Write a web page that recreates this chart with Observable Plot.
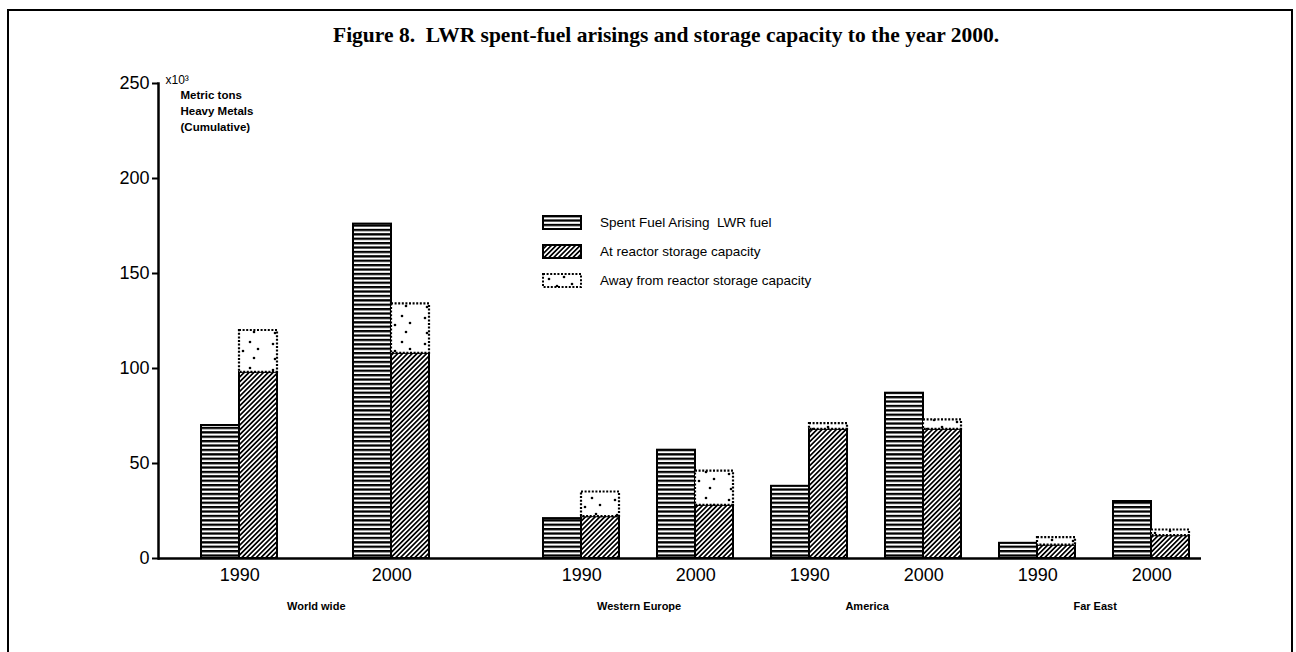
<!DOCTYPE html>
<html>
<head>
<meta charset="utf-8">
<script src="https://cdn.jsdelivr.net/npm/d3@7"></script>
<script src="https://cdn.jsdelivr.net/npm/@observablehq/plot@0.6"></script>
<style>
html, body { margin: 0; padding: 0; background: #fff; }
#wrap { position: relative; width: 1296px; height: 652px; overflow: hidden; font-family: "Liberation Sans", Arial, sans-serif; color: #000; }
#border { position: absolute; left: 7px; top: 9px; width: 1286px; height: 670px; border: 2px solid #000; box-sizing: border-box; }
#chart { position: absolute; left: 0; top: 0; }
#title { position: absolute; left: 333px; top: 23px; font-family: "Liberation Serif", "Times New Roman", serif; font-weight: bold; font-size: 21.5px; white-space: pre; line-height: 24px; }
#legend { position: absolute; left: 542px; top: 208px; font-size: 13.5px; }
#legend .row { display: flex; align-items: center; height: 29px; }
#legend span { white-space: pre; }
#legend svg { display: block; margin-right: 18px; }
</style>
</head>
<body>
<div id="wrap">
  <div id="border"></div>
  <div id="chart"></div>
  <div id="title">Figure 8.  LWR spent-fuel arisings and storage capacity to the year 2000.</div>
  <div id="legend"></div>
</div>
<script>
// ---- data (thousand metric tons heavy metal, cumulative) ----
const regions = ["World wide", "Western Europe", "America", "Far East"];
const years = ["1990", "2000"];
// order: World 1990, World 2000, W.Europe 1990, W.Europe 2000, America 1990, America 2000, Far East 1990, Far East 2000
const spentFuel = [70, 176, 21, 57, 38, 87, 8, 30];
const atReactor = [98, 108, 22, 28, 68, 68, 7, 12];
const awayFromReactor = [22, 26, 13, 18, 3, 5, 4, 3];
const yTicks = [0, 50, 100, 150, 200, 250];
const legendLabels = ["Spent Fuel Arising  LWR fuel", "At reactor storage capacity", "Away from reactor storage capacity"];
const unitLabel = "x10³";
const axisNote = "Metric tons\nHeavy Metals\n(Cumulative)";

// ---- layout ----
const W = 1296, H = 652;
const barRange = [197, 1193];
const gapsAfter = [2, 3, 1, 1, 1, 1, 1];
const groups = regions.flatMap(r => years.map(y => ({region: r, year: y, key: r + " " + y})));
const slots = [];
groups.forEach((g, i) => {
  slots.push(g.key + "|s", g.key + "|r");
  if (i < groups.length - 1) for (let k = 0; k < gapsAfter[i]; k++) slots.push("gap" + i + "-" + k);
});
const band = d3.scaleBand().domain(slots).range(barRange);
const bw = band.bandwidth();

const spentRows = groups.map((g, i) => ({slot: g.key + "|s", value: spentFuel[i]}));
const reactorRows = groups.map((g, i) => ({slot: g.key + "|r", y1: 0, y2: atReactor[i]}));
const awayRows = groups.map((g, i) => ({slot: g.key + "|r", y1: atReactor[i], y2: atReactor[i] + awayFromReactor[i]}));

const regionMarks = regions.map(r => {
  const a = band(r + " " + years[0] + "|s"), b = band(r + " " + years[1] + "|s");
  const off = (b - a) / 2 + bw / 2;
  return Plot.text([r], {x: () => r + " " + years[0] + "|s", frameAnchor: "bottom", dy: 51, dx: off,
    fontSize: 11, fontWeight: "bold", fill: "#000"});
});

const chart = Plot.plot({
  width: W, height: H,
  marginTop: 83, marginBottom: 94, marginLeft: 158, marginRight: 95,
  style: {fontFamily: '"Liberation Sans", Arial, sans-serif', background: "transparent", color: "#000"},
  x: {type: "band", domain: slots, range: barRange, paddingInner: 0, paddingOuter: 0, axis: null},
  y: {domain: [0, 250], axis: null},
  marks: [
    Plot.barY(spentRows, {x: "slot", y: "value", fill: "url(#hstripe)", stroke: "#000", strokeWidth: 2, inset: 0}),
    Plot.barY(reactorRows, {x: "slot", y1: "y1", y2: "y2", fill: "url(#hatch)", stroke: "#000", strokeWidth: 2, inset: 0}),
    Plot.barY(awayRows, {x: "slot", y1: "y1", y2: "y2", fill: "url(#dots)", stroke: "#000", strokeWidth: 2.2, strokeDasharray: "2,1.6", inset: 0}),
    Plot.ruleY([0], {stroke: "#000", strokeWidth: 2.5}),
    Plot.frame({anchor: "left", stroke: "#000", strokeWidth: 2.5}),
    Plot.axisY({ticks: yTicks, tickSize: 6, tickPadding: 3, fontSize: 18, strokeWidth: 2, tickFormat: d => String(d), label: null}),
    Plot.text(groups, {x: g => g.key + "|s", frameAnchor: "bottom", dy: 22, dx: bw / 2, text: "year", fontSize: 18, fill: "#000"}),
    ...regionMarks,
    Plot.text([unitLabel], {frameAnchor: "top-left", dx: 7, dy: -8, textAnchor: "start", fontSize: 12, fill: "#000"}),
    Plot.text([axisNote], {frameAnchor: "top-left", dx: 22, dy: 4, textAnchor: "start", lineAnchor: "top", lineHeight: 1.4, fontSize: 11.5, fontWeight: "bold", fill: "#000"})
  ]
});

const defs = `
<pattern id="hstripe" patternUnits="userSpaceOnUse" width="8" height="4.4">
  <rect width="8" height="4.4" fill="#fff"/><rect width="8" height="2.3" fill="#000"/>
</pattern>
<pattern id="hatch" patternUnits="userSpaceOnUse" width="3.4" height="3.4" patternTransform="rotate(45)">
  <rect width="3.4" height="3.4" fill="#fff"/><rect width="1.7" height="3.4" fill="#000"/>
</pattern>
<pattern id="dots" patternUnits="userSpaceOnUse" width="38" height="26">
  <rect width="38" height="26" fill="#fff"/>
  <circle cx="7" cy="6" r="1.3" fill="#000"/><circle cx="22" cy="4" r="1.3" fill="#000"/>
  <circle cx="15" cy="13" r="1.3" fill="#000"/><circle cx="30" cy="11" r="1.3" fill="#000"/>
  <circle cx="9" cy="21" r="1.3" fill="#000"/><circle cx="26" cy="20" r="1.3" fill="#000"/>
</pattern>`;
const ns = "http://www.w3.org/2000/svg";
const defsEl = document.createElementNS(ns, "defs");
defsEl.innerHTML = defs;
chart.insertBefore(defsEl, chart.firstChild);
document.getElementById("chart").appendChild(chart);

// legend
const fills = ["url(#hstripe)", "url(#hatch)", "url(#dots)"];
const legend = document.getElementById("legend");
legendLabels.forEach((lab, i) => {
  const row = document.createElement("div");
  row.className = "row";
  row.innerHTML = `<svg width="40" height="15"><rect x="1" y="1" width="38" height="13" fill="${fills[i]}" stroke="#000" stroke-width="2"${i === 2 ? ' stroke-dasharray="2,1.6"' : ''}/></svg><span>${lab}</span>`;
  legend.appendChild(row);
});
</script>
</body>
</html>
